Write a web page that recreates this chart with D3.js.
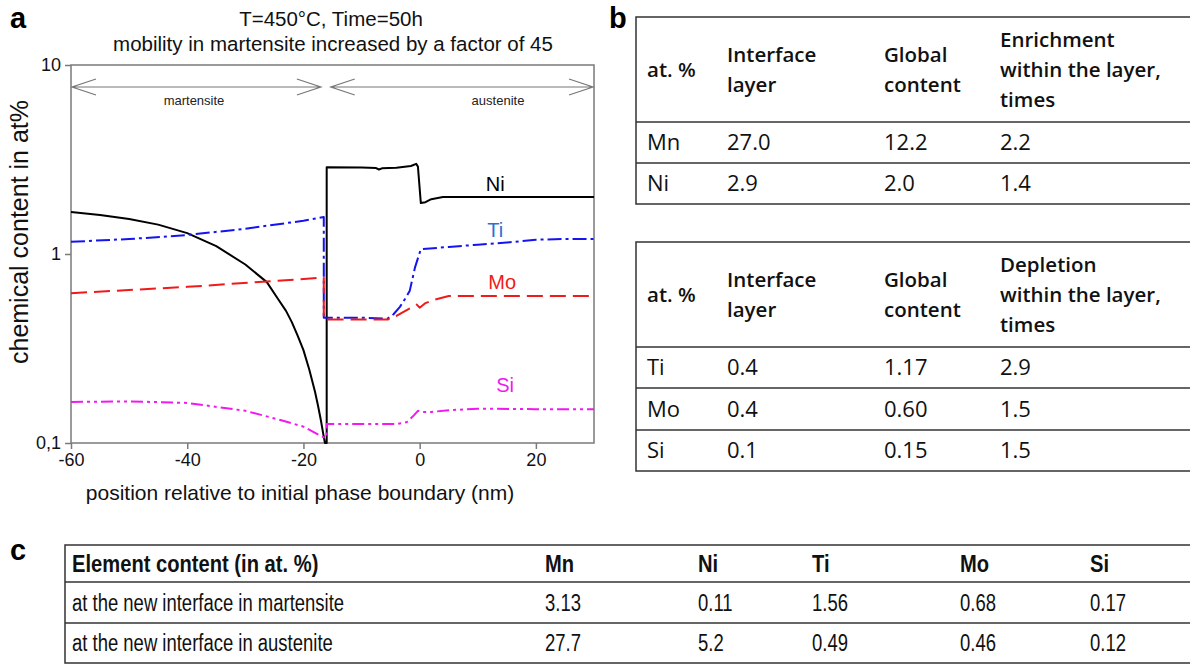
<!DOCTYPE html>
<html>
<head>
<meta charset="utf-8">
<script src="https://cdn.jsdelivr.net/npm/d3@7"></script>
<style>
  body { margin: 0; background: #fff; }
  svg { display: block; }
</style>
</head>
<body>
<div id="vis"></div>
<script>
// concentration profiles, [position nm, at%]
const niData = [
  [-60, 1.67], [-55, 1.61], [-50, 1.53], [-45, 1.43], [-40, 1.29], [-35, 1.10],
  [-30, 0.88], [-26.3, 0.71], [-24.4, 0.58], [-23, 0.50], [-22, 0.436],
  [-21, 0.37], [-20, 0.31], [-19, 0.245], [-18, 0.186], [-17.5, 0.158],
  [-17, 0.132], [-16.6, 0.112], [-16.3, 0.1],
  [-16, 0.1], [-16, 2.88], [-10, 2.87], [-7.5, 2.85], [-7, 2.80], [-6.5, 2.84],
  [-4, 2.86], [-1.5, 2.92], [-0.6, 3.0], [-0.3, 2.9], [0.2, 1.86], [1, 1.88],
  [2, 1.95], [4, 2.0], [30, 2.0]
];
const tiData = [
  [-60, 1.16], [-50, 1.2], [-40, 1.26], [-30, 1.36], [-20, 1.5], [-16.5, 1.57],
  [-16.5, 0.46], [-10, 0.46], [-5.5, 0.455], [-4.5, 0.48], [-3.4, 0.525],
  [-2.5, 0.58], [-1.7, 0.64], [-0.8, 0.85], [0.2, 1.06], [5, 1.09], [10, 1.12],
  [15, 1.15], [20, 1.19], [25, 1.2], [30, 1.2]
];
const moData = [
  [-60, 0.62], [-40, 0.67], [-16.5, 0.75],
  [-16.5, 0.45], [-10, 0.45], [-5.5, 0.45], [-4, 0.47], [-3, 0.49], [-1.5, 0.52],
  [-0.5, 0.54], [0, 0.52], [1, 0.55], [2.3, 0.57], [5, 0.6], [30, 0.6]
];
const siData = [
  [-60, 0.165], [-50, 0.166], [-40, 0.163], [-30, 0.148], [-23.8, 0.132],
  [-20, 0.122], [-16.5, 0.107], [-16, 0.107], [-16, 0.126], [-10, 0.126],
  [-4, 0.126], [-2.2, 0.129], [-1, 0.14], [-0.3, 0.148], [0.5, 0.146],
  [2, 0.146], [5, 0.149], [10, 0.152], [20, 0.151], [30, 0.151]
];

const series = [
  {name: 'Ni', data: niData, color: '#000000', label: '#000000', dash: null, at: [13, 2.35]},
  {name: 'Ti', data: tiData, color: '#1414f0', label: '#2a6fd4', dash: '14,4,3,4', at: [13, 1.34]},
  {name: 'Mo', data: moData, color: '#f01a1a', label: '#f01a1a', dash: '16,7', at: [14.2, 0.71]},
  {name: 'Si', data: siData, color: '#f01af0', label: '#f01af0', dash: '12,4,3,4,3,4', at: [14.7, 0.203]},
];

const xTicks = [-60, -40, -20, 0, 20];
const yTicks = [0.1, 1, 10];
const yTickLabels = ['0,1', '1', '10'];

// table b
const enrichHead = [['at. %'], ['Interface', 'layer'], ['Global', 'content'], ['Enrichment', 'within the layer,', 'times']];
const enrichRows = [
  ['Mn', '27.0', '12.2', '2.2'],
  ['Ni', '2.9', '2.0', '1.4'],
];
const depleteHead = [['at. %'], ['Interface', 'layer'], ['Global', 'content'], ['Depletion', 'within the layer,', 'times']];
const depleteRows = [
  ['Ti', '0.4', '1.17', '2.9'],
  ['Mo', '0.4', '0.60', '1.5'],
  ['Si', '0.1', '0.15', '1.5'],
];

// table c
const contentHead = ['Element content (in at. %)', 'Mn', 'Ni', 'Ti', 'Mo', 'Si'];
const contentRows = [
  ['at the new interface in martensite', '3.13', '0.11', '1.56', '0.68', '0.17'],
  ['at the new interface in austenite', '27.7', '5.2', '0.49', '0.46', '0.12'],
];

const width = 1190, height = 665;
const svg = d3.select('#vis').append('svg')
    .attr('width', width)
    .attr('height', height);

const axisFont = 'Liberation Sans, Arial, sans-serif';
const tableFont = 'Open Sans, sans-serif';
const gridColor = '#7a7a7a';

const x = d3.scaleLinear().domain([-60, 30]).range([71, 594]);
const y = d3.scaleLog().domain([0.1, 10]).range([443, 65]);

drawChart();
drawTableB(svg.append('g'), enrichHead, enrichRows, 17, [122, 163, 204]);
drawTableB(svg.append('g'), depleteHead, depleteRows, 242, [347, 388, 430, 471]);
drawTableC();
drawPanelLetters();


function drawChart() {
  const g = svg.append('g');

  // frame
  g.append('rect')
      .attr('x', x(-60))
      .attr('y', y(10))
      .attr('width', x(30) - x(-60))
      .attr('height', y(0.1) - y(10))
      .attr('fill', 'none')
      .attr('stroke', gridColor)
      .attr('stroke-width', 1.5);

  const xAxis = g.append('g')
      .attr('transform', `translate(0,${y(0.1)})`)
      .call(d3.axisBottom(x).tickValues(xTicks).tickSize(6).tickPadding(4)
        .tickFormat(d => String(d)));
  xAxis.select('.domain').remove();
  xAxis.selectAll('line').attr('stroke', gridColor).attr('stroke-width', 1.5);
  xAxis.selectAll('text')
      .attr('font-family', axisFont)
      .attr('font-size', 18)
      .attr('fill', '#111');

  const yAxis = g.append('g')
      .attr('transform', `translate(${x(-60)},0)`)
      .call(d3.axisLeft(y).tickValues(yTicks).tickSize(6).tickPadding(4)
        .tickFormat((d, i) => yTickLabels[i]));
  yAxis.select('.domain').remove();
  yAxis.selectAll('line').attr('stroke', gridColor).attr('stroke-width', 1.5);
  yAxis.selectAll('text')
      .attr('font-family', axisFont)
      .attr('font-size', 18)
      .attr('fill', '#111');

  // axis titles
  g.append('text')
      .attr('x', 300)
      .attr('y', 500)
      .attr('text-anchor', 'middle')
      .attr('font-family', axisFont)
      .attr('font-size', 21)
      .attr('fill', '#111')
      .text('position relative to initial phase boundary (nm)');

  g.append('text')
      .attr('transform', 'translate(28,232) rotate(-90)')
      .attr('text-anchor', 'middle')
      .attr('font-family', axisFont)
      .attr('font-size', 25)
      .attr('fill', '#111')
      .text('chemical content in at%');

  // title
  g.append('text')
      .attr('x', 331)
      .attr('y', 26)
      .attr('text-anchor', 'middle')
      .attr('font-family', axisFont)
      .attr('font-size', 20.5)
      .attr('fill', '#111')
      .text('T=450°C, Time=50h');
  g.append('text')
      .attr('x', 333)
      .attr('y', 51)
      .attr('text-anchor', 'middle')
      .attr('font-family', axisFont)
      .attr('font-size', 20.5)
      .attr('fill', '#111')
      .text('mobility in martensite increased by a factor of 45');

  // phase arrows
  const arrowY = 87;
  const arrows = [
    {x0: x(-60) + 1, x1: x(-17), label: 'martensite', lx: 194},
    {x0: x(-15.3), x1: x(30) - 1, label: 'austenite', lx: 498},
  ];
  const ag = g.selectAll('.phase')
    .data(arrows)
    .join('g')
      .attr('class', 'phase');
  ag.append('path')
      .attr('d', d => `M${d.x0},${arrowY}H${d.x1}` +
        `M${d.x0 + 24},${arrowY - 8}L${d.x0},${arrowY}L${d.x0 + 24},${arrowY + 8}` +
        `M${d.x1 - 24},${arrowY - 8}L${d.x1},${arrowY}L${d.x1 - 24},${arrowY + 8}`)
      .attr('fill', 'none')
      .attr('stroke', '#777')
      .attr('stroke-width', 1.2);
  ag.append('text')
      .attr('x', d => d.lx)
      .attr('y', arrowY + 18)
      .attr('text-anchor', 'middle')
      .attr('font-family', axisFont)
      .attr('font-size', 13)
      .attr('fill', '#222')
      .text(d => d.label);

  // profiles
  const line = d3.line()
      .x(d => x(d[0]))
      .y(d => y(d[1]));

  g.selectAll('.profile')
    .data(series)
    .join('path')
      .attr('class', 'profile')
      .attr('d', d => line(d.data))
      .attr('fill', 'none')
      .attr('stroke', d => d.color)
      .attr('stroke-width', 2)
      .attr('stroke-linejoin', 'round')
      .attr('stroke-dasharray', d => d.dash);

  g.selectAll('.profile-label')
    .data(series)
    .join('text')
      .attr('class', 'profile-label')
      .attr('x', d => x(d.at[0]))
      .attr('y', d => y(d.at[1]))
      .attr('dy', '0.35em')
      .attr('text-anchor', 'middle')
      .attr('font-family', axisFont)
      .attr('font-size', 20)
      .attr('fill', d => d.label)
      .text(d => d.name);
}


function drawTableB(g, head, rows, top, lines) {
  const left = 636;
  const colX = [647, 727, 884, 1000];
  const headMid = (top + lines[0]) / 2;
  const lineColor = '#333';

  g.append('path')
      .attr('d', `M${width},${top}H${left}V${lines[lines.length - 1]}H${width}`)
      .attr('fill', 'none')
      .attr('stroke', lineColor)
      .attr('stroke-width', 1.5);

  g.selectAll('.rule')
    .data(lines.slice(0, -1))
    .join('line')
      .attr('class', 'rule')
      .attr('x1', left)
      .attr('x2', width)
      .attr('y1', d => d)
      .attr('y2', d => d)
      .attr('stroke', lineColor)
      .attr('stroke-width', 1.5);

  head.forEach((cell, i) => {
    cell.forEach((t, j) => {
      g.append('text')
          .attr('x', colX[i])
          .attr('y', headMid + (j - (cell.length - 1) / 2) * 30)
          .attr('dy', '0.35em')
          .attr('font-family', tableFont)
          .attr('font-weight', 600)
          .attr('font-size', 20.5)
          .attr('fill', '#111')
          .text(t);
    });
  });

  rows.forEach((row, r) => {
    const mid = (lines[r] + lines[r + 1]) / 2;
    row.forEach((t, i) => {
      g.append('text')
          .attr('x', colX[i])
          .attr('y', mid)
          .attr('dy', '0.35em')
          .attr('font-family', tableFont)
          .attr('font-size', 22)
          .attr('fill', '#111')
          .text(t);
    });
  });
}


function drawTableC() {
  const g = svg.append('g');
  const left = 65;
  const lines = [545, 582, 623, 663];
  const colX = [72, 545, 698, 812, 960, 1090];

  g.append('path')
      .attr('d', `M${width},${lines[0]}H${left}V${lines[3]}H${width}`)
      .attr('fill', 'none')
      .attr('stroke', '#333')
      .attr('stroke-width', 1.5);

  g.selectAll('.rule')
    .data(lines.slice(1, 3))
    .join('line')
      .attr('class', 'rule')
      .attr('x1', left)
      .attr('x2', width)
      .attr('y1', d => d)
      .attr('y2', d => d)
      .attr('stroke', '#333')
      .attr('stroke-width', 1.5);

  // condensed look: squeeze glyphs horizontally
  const allRows = [contentHead, ...contentRows];
  allRows.forEach((row, r) => {
    const mid = (lines[r] + lines[r + 1]) / 2;
    row.forEach((t, i) => {
      g.append('text')
          .attr('transform', `translate(${colX[i]},${mid}) scale(${r === 0 ? 0.84 : 0.77},1)`)
          .attr('dy', '0.35em')
          .attr('font-family', axisFont)
          .attr('font-weight', r === 0 ? 'bold' : 'normal')
          .attr('font-size', 24)
          .attr('fill', '#111')
          .text(t);
    });
  });
}


function drawPanelLetters() {
  const letters = [
    {t: 'a', x: 10, y: 28},
    {t: 'b', x: 609, y: 28},
    {t: 'c', x: 10, y: 560},
  ];
  svg.selectAll('.panel')
    .data(letters)
    .join('text')
      .attr('class', 'panel')
      .attr('x', d => d.x)
      .attr('y', d => d.y)
      .attr('font-family', axisFont)
      .attr('font-weight', 'bold')
      .attr('font-size', 29)
      .attr('fill', '#000')
      .text(d => d.t);
}
</script>
</body>
</html>
